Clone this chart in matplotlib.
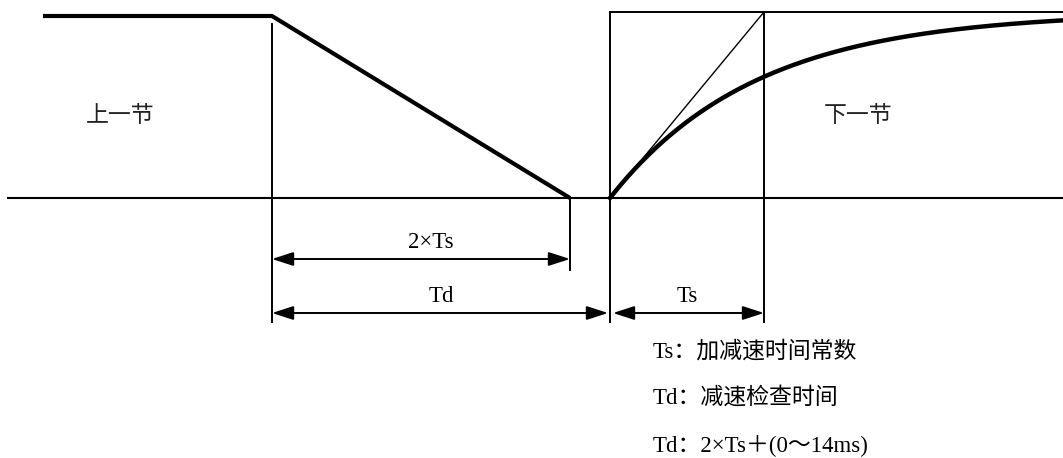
import numpy as np
import matplotlib.pyplot as plt

# ------------------------------ diagram values ------------------------------ #
# horizontal positions (px-like units, left to right)
x_start = 43          # start of previous block
x_decel = 272         # deceleration begins
x_decel_end = 570     # deceleration reaches zero (2 x Ts)
x_next = 610          # next block begins (after Td)
x_ts = 764            # one time constant after next block start
x_end = 1063          # right edge

# vertical levels (px-like units, top = 0)
y_base = 198          # zero speed line
y_prev = 16           # speed of previous block
y_next = 12           # speed of next block
y_arrow_2ts = 259
y_arrow_td = 313

ts_const = 146        # time constant of the exponential rise

labels_block = ["上一节", "下一节"]
label_x = [120, 858]
legend_lines = ["Ts：加减速时间常数", "Td：减速检查时间", "Td：2×Ts＋(0～14ms)"]
legend_y = [352, 398, 445]

# ---------------------------------- figure ---------------------------------- #
fig = plt.figure(figsize=(10.63, 4.58), dpi=100)
ax = fig.add_axes([0, 0, 1, 1])
ax.set_xlim(0, 1063)
ax.set_ylim(458, 0)
ax.axis("off")

fonts = ["Liberation Serif", "Noto Sans CJK SC"]
k = "black"
fs = 16.5

# baseline
ax.plot([8, x_end], [y_base, y_base], color=k, lw=1.5)

# previous block: constant speed then linear deceleration
ax.plot([x_start, x_decel, x_decel_end], [y_prev, y_prev, y_base], color=k, lw=3, solid_capstyle="butt")

# vertical guide lines
ax.plot([x_decel, x_decel], [y_prev + 8, 322], color=k, lw=1.4)
ax.plot([x_decel_end, x_decel_end], [y_base + 2, 270], color=k, lw=1.4)
ax.plot([x_next, x_next], [y_next, 322], color=k, lw=1.4)
ax.plot([x_ts, x_ts], [y_next, 322], color=k, lw=1.4)

# next block target speed
ax.plot([x_next, x_end], [y_next, y_next], color=k, lw=1.4)

# tangent line of the exponential
ax.plot([x_next, x_ts], [y_base, y_next], color=k, lw=1.0)

# exponential acceleration curve
t = np.linspace(x_next, x_end, 300)
curve = y_base - (y_base - y_next) * (1 - np.exp(-(t - x_next) / ts_const))
ax.plot(t, curve, color=k, lw=3.2)

# dimension arrows
arrow = dict(arrowstyle="<|-|>,head_length=1.3,head_width=0.42", color=k, lw=1.4,
             shrinkA=0, shrinkB=0, mutation_scale=10)
ax.annotate("", xy=(x_decel, y_arrow_2ts), xytext=(x_decel_end, y_arrow_2ts), arrowprops=arrow)
ax.annotate("", xy=(x_decel, y_arrow_td), xytext=(x_next - 2, y_arrow_td), arrowprops=arrow)
ax.annotate("", xy=(x_next + 3, y_arrow_td), xytext=(x_ts, y_arrow_td), arrowprops=arrow)

ax.text((x_decel + x_decel_end) / 2 + 10, y_arrow_2ts - 17, "2×Ts", ha="center", va="center",
        fontsize=fs, family=fonts)
ax.text((x_decel + x_next) / 2, y_arrow_td - 17, "Td", ha="center", va="center",
        fontsize=fs, family=fonts)
ax.text((x_next + x_ts) / 2, y_arrow_td - 17, "Ts", ha="center", va="center",
        fontsize=fs, family=fonts)

for lab, lx in zip(labels_block, label_x):
    ax.text(lx, 117, lab, ha="center", va="center", fontsize=fs, family=fonts, color="#222222")

for line, ly in zip(legend_lines, legend_y):
    ax.text(653, ly, line, ha="left", va="center", fontsize=fs, family=fonts)

fig.savefig("out.png", dpi=100)
